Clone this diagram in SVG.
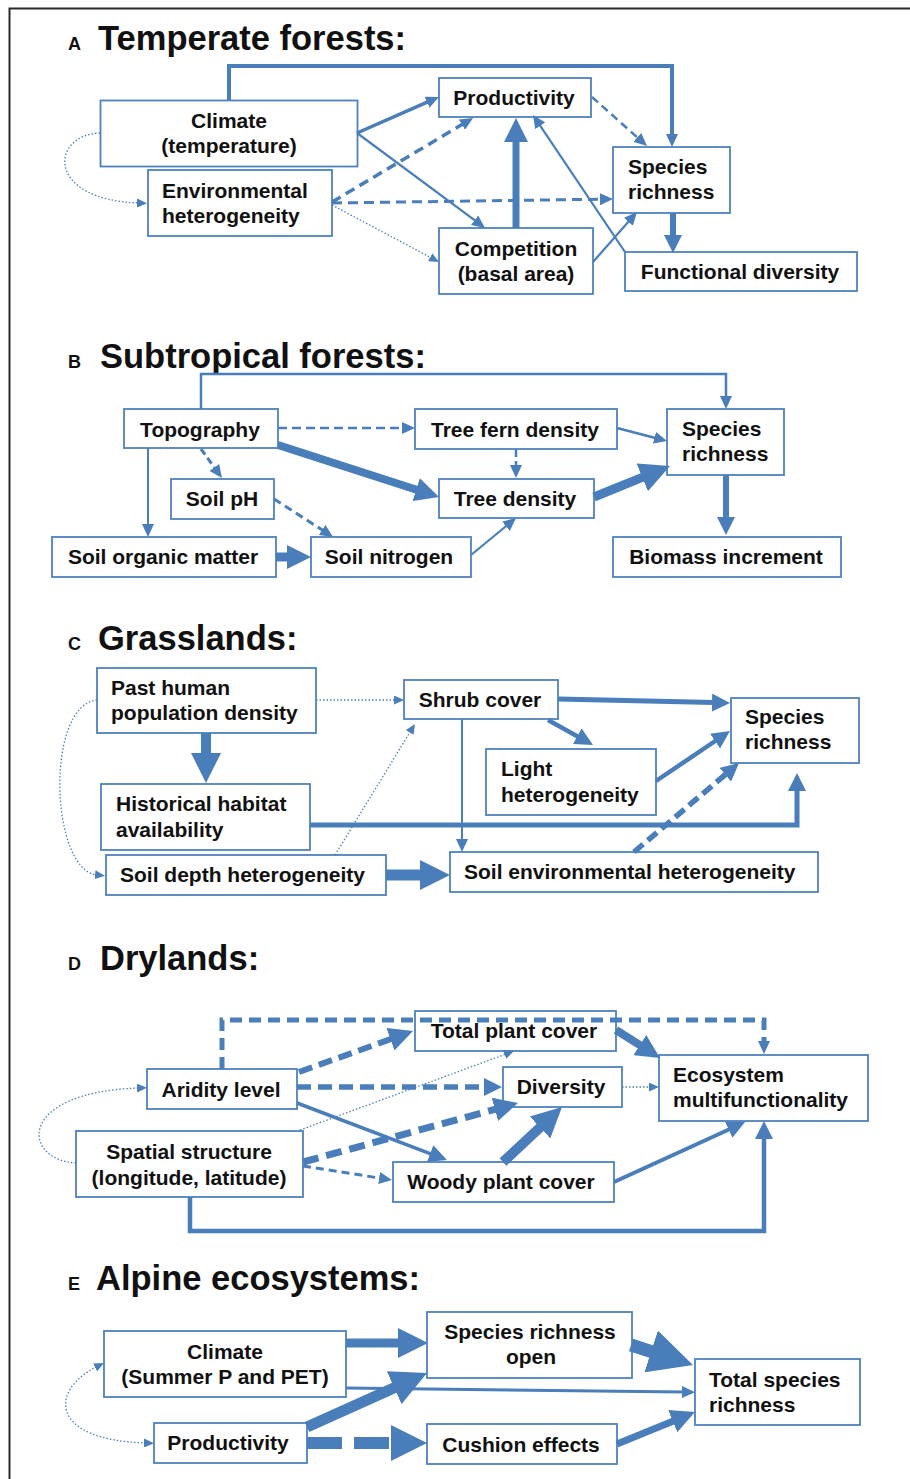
<svg xmlns="http://www.w3.org/2000/svg" width="910" height="1479" viewBox="0 0 910 1479">
<style>
.box{fill:#fff;stroke:#4f81bd;stroke-width:1.8}
.t{font-family:"Liberation Sans",Arial,sans-serif;font-weight:bold;font-size:21px;fill:#111}
.c{text-anchor:middle}
.ttl{font-size:34.5px}
.lbl{font-size:18px}
.ln{fill:none;stroke:#4a7ebb}
.dot{stroke-width:1.3;stroke-dasharray:1.5 2}
.frame{stroke:#2a2a2a;stroke-width:2;fill:none}
</style>
<defs>
<marker id="ma" markerUnits="userSpaceOnUse" markerWidth="10" markerHeight="9" refX="2" refY="4.5" orient="auto"><path d="M0,0 L10,4.5 L0,9 z" fill="#4a7ebb"/></marker>
<marker id="ma2" markerUnits="userSpaceOnUse" markerWidth="10" markerHeight="9" refX="2" refY="4.5" orient="auto-start-reverse"><path d="M0,0 L10,4.5 L0,9 z" fill="#4a7ebb"/></marker>
<marker id="mb" markerUnits="userSpaceOnUse" markerWidth="13" markerHeight="12" refX="2" refY="6" orient="auto"><path d="M0,0 L13,6 L0,12 z" fill="#4a7ebb"/></marker>
<marker id="mc" markerUnits="userSpaceOnUse" markerWidth="18" markerHeight="18" refX="2" refY="9" orient="auto"><path d="M0,0 L18,9 L0,18 z" fill="#4a7ebb"/></marker>
<marker id="md" markerUnits="userSpaceOnUse" markerWidth="24" markerHeight="24" refX="2" refY="12" orient="auto"><path d="M0,0 L24,12 L0,24 z" fill="#4a7ebb"/></marker>
<marker id="me" markerUnits="userSpaceOnUse" markerWidth="30" markerHeight="30" refX="2" refY="15" orient="auto"><path d="M0,0 L30,15 L0,30 z" fill="#4a7ebb"/></marker>
<marker id="mf" markerUnits="userSpaceOnUse" markerWidth="36" markerHeight="36" refX="2" refY="18" orient="auto"><path d="M0,0 L36,18 L0,36 z" fill="#4a7ebb"/></marker>
<marker id="mg" markerUnits="userSpaceOnUse" markerWidth="44" markerHeight="44" refX="2" refY="22" orient="auto"><path d="M0,0 L44,22 L0,44 z" fill="#4a7ebb"/></marker>
</defs>
<rect width="910" height="1479" fill="#fff"/>
<path class="frame" d="M910,8.5 H9.5 V1479"/>

<g id="titles">
<text class="t lbl" x="68" y="50">A</text><text class="t ttl" x="98" y="50">Temperate forests:</text>
<text class="t lbl" x="68" y="368">B</text><text class="t ttl" x="100" y="368">Subtropical forests:</text>
<text class="t lbl" x="68" y="650">C</text><text class="t ttl" x="98" y="650">Grasslands:</text>
<text class="t lbl" x="68" y="970">D</text><text class="t ttl" x="100" y="970">Drylands:</text>
<text class="t lbl" x="68" y="1290">E</text><text class="t ttl" x="96" y="1290">Alpine ecosystems:</text>
</g>

<!-- Panel A nodes -->
<g id="a-climate"><rect class="box" x="100.5" y="100.5" width="257" height="66"/><text class="t c" x="229" y="128">Climate</text><text class="t c" x="229" y="153">(temperature)</text></g>
<g id="a-envhet"><rect class="box" x="148" y="170" width="184" height="66"/><text class="t" x="162" y="198">Environmental</text><text class="t" x="162" y="223">heterogeneity</text></g>
<g id="a-productivity"><rect class="box" x="439" y="78" width="152" height="39"/><text class="t c" x="514" y="105">Productivity</text></g>
<g id="a-species"><rect class="box" x="613" y="147" width="117" height="66"/><text class="t" x="628" y="174">Species</text><text class="t" x="628" y="199">richness</text></g>
<g id="a-competition"><rect class="box" x="439" y="228" width="154" height="66"/><text class="t c" x="516" y="256">Competition</text><text class="t c" x="516" y="281">(basal area)</text></g>
<g id="a-functional"><rect class="box" x="625" y="252" width="232" height="39"/><text class="t c" x="740" y="279">Functional diversity</text></g>

<!-- Panel B nodes -->
<g id="b-topography"><rect class="box" x="124" y="409" width="154" height="39"/><text class="t c" x="200" y="437">Topography</text></g>
<g id="b-soilph"><rect class="box" x="171" y="479" width="103" height="40"/><text class="t c" x="222" y="506">Soil pH</text></g>
<g id="b-soilorg"><rect class="box" x="52" y="537" width="224" height="40"/><text class="t c" x="163" y="564">Soil organic matter</text></g>
<g id="b-soilnit"><rect class="box" x="311" y="537" width="160" height="40"/><text class="t c" x="389" y="564">Soil nitrogen</text></g>
<g id="b-treefern"><rect class="box" x="415" y="409" width="202" height="40"/><text class="t c" x="515" y="437">Tree fern density</text></g>
<g id="b-treedens"><rect class="box" x="439" y="479" width="155" height="39"/><text class="t c" x="515" y="506">Tree density</text></g>
<g id="b-species"><rect class="box" x="667" y="409" width="117" height="66"/><text class="t" x="682" y="436">Species</text><text class="t" x="682" y="461">richness</text></g>
<g id="b-biomass"><rect class="box" x="613" y="537" width="228" height="40"/><text class="t c" x="726" y="564">Biomass increment</text></g>

<!-- Panel C nodes -->
<g id="c-pasthuman"><rect class="box" x="97" y="668" width="219" height="65"/><text class="t" x="111" y="695">Past human</text><text class="t" x="111" y="720">population density</text></g>
<g id="c-historical"><rect class="box" x="101" y="784" width="209" height="66"/><text class="t" x="116" y="811">Historical habitat</text><text class="t" x="116" y="837">availability</text></g>
<g id="c-soildepth"><rect class="box" x="106" y="855" width="280" height="40"/><text class="t" x="120" y="882">Soil depth heterogeneity</text></g>
<g id="c-shrub"><rect class="box" x="404" y="680" width="154" height="39"/><text class="t c" x="480" y="707">Shrub cover</text></g>
<g id="c-light"><rect class="box" x="486" y="749" width="170" height="66"/><text class="t" x="501" y="776">Light</text><text class="t" x="501" y="802">heterogeneity</text></g>
<g id="c-species"><rect class="box" x="731" y="698" width="128" height="65"/><text class="t" x="745" y="724">Species</text><text class="t" x="745" y="749">richness</text></g>
<g id="c-soilenv"><rect class="box" x="450" y="852" width="368" height="40"/><text class="t" x="464" y="879">Soil environmental heterogeneity</text></g>

<!-- Panel D nodes -->
<g id="d-aridity"><rect class="box" x="147" y="1069" width="150" height="40"/><text class="t c" x="221" y="1097">Aridity level</text></g>
<g id="d-spatial"><rect class="box" x="76" y="1131" width="227" height="66"/><text class="t c" x="189" y="1159">Spatial structure</text><text class="t c" x="189" y="1185">(longitude, latitude)</text></g>
<g id="d-totalplant"><rect class="box" x="415" y="1011" width="201" height="40"/><text class="t c" x="514" y="1038">Total plant cover</text></g>
<g id="d-diversity"><rect class="box" x="503" y="1067" width="119" height="40"/><text class="t c" x="561" y="1094">Diversity</text></g>
<g id="d-woody"><rect class="box" x="393" y="1162" width="221" height="40"/><text class="t c" x="501" y="1189">Woody plant cover</text></g>
<g id="d-ecosystem"><rect class="box" x="659" y="1055" width="209" height="66"/><text class="t" x="673" y="1082">Ecosystem</text><text class="t" x="673" y="1107">multifunctionality</text></g>

<!-- Panel E nodes -->
<g id="e-climate"><rect class="box" x="104" y="1331" width="242" height="66"/><text class="t c" x="225" y="1359">Climate</text><text class="t c" x="225" y="1384">(Summer P and PET)</text></g>
<g id="e-productivity"><rect class="box" x="154" y="1423" width="153" height="40"/><text class="t c" x="228" y="1450">Productivity</text></g>
<g id="e-sro"><rect class="box" x="427" y="1312" width="205" height="66"/><text class="t c" x="530" y="1339">Species richness</text><text class="t c" x="531" y="1364">open</text></g>
<g id="e-cushion"><rect class="box" x="427" y="1424" width="190" height="40"/><text class="t c" x="521" y="1452">Cushion effects</text></g>
<g id="e-total"><rect class="box" x="695" y="1359" width="165" height="66"/><text class="t" x="709" y="1387">Total species</text><text class="t" x="709" y="1412">richness</text></g>

<g id="connectors">
<!-- A -->
<path class="ln" stroke-width="4" d="M229,100 V66 H672 V136" marker-end="url(#mb)"/>
<path class="ln" stroke-width="3.5" d="M357,133 L428.9,101.4" marker-end="url(#mb)"/>
<path class="ln" stroke-width="2.2" d="M357,133 L476.2,221.4" marker-end="url(#mb)"/>
<path class="ln" stroke-width="3.5" stroke-dasharray="10 6" d="M332,202 L463.6,123.6" marker-end="url(#mb)"/>
<path class="ln" stroke-width="3" stroke-dasharray="10 6" d="M332,203 L602,199.2" marker-end="url(#mb)"/>
<path class="ln dot" d="M332,205 L431.9,258.2" marker-end="url(#ma)"/>
<path class="ln dot" d="M100,133 C50,135 45,200 139,203" marker-end="url(#ma)"/>
<path class="ln" stroke-width="7" d="M516,228 V140" marker-end="url(#md)"/>
<path class="ln" stroke-width="2.5" stroke-dasharray="8 5" d="M592,97 L638.8,138.7" marker-end="url(#mb)"/>
<path class="ln" stroke-width="2.2" d="M593,262 L629.7,220.3" marker-end="url(#mb)"/>
<path class="ln" stroke-width="2.2" d="M625,252 L539.1,124.1" marker-end="url(#mb)"/>
<path class="ln" stroke-width="6" d="M673,213 V237" marker-end="url(#mc)"/>
<!-- B -->
<path class="ln" stroke-width="2.5" d="M201,409 V374 H726 V398" marker-end="url(#mb)"/>
<path class="ln" stroke-width="2.5" stroke-dasharray="9 5" d="M278,428 H404" marker-end="url(#mb)"/>
<path class="ln" stroke-width="3" stroke-dasharray="7 4" d="M201,449 L215.5,469.1" marker-end="url(#mb)"/>
<path class="ln" stroke-width="2" d="M148,448 V526" marker-end="url(#mb)"/>
<path class="ln" stroke-width="8" d="M278,445 L418.1,490.2" marker-end="url(#md)"/>
<path class="ln" stroke-width="3" stroke-dasharray="8 5" d="M274,499 L323.8,531" marker-end="url(#mb)"/>
<path class="ln" stroke-width="9" d="M276,557 H289" marker-end="url(#md)"/>
<path class="ln" stroke-width="2.2" d="M471,555 L507.5,525" marker-end="url(#mb)"/>
<path class="ln" stroke-width="2.5" stroke-dasharray="8 4" d="M516,449 V467" marker-end="url(#mb)"/>
<path class="ln" stroke-width="2.5" d="M617,428 L656.4,438.2" marker-end="url(#mb)"/>
<path class="ln" stroke-width="9" d="M594,497 L644.1,476.6" marker-end="url(#me)"/>
<path class="ln" stroke-width="6" d="M726,475 V519" marker-end="url(#mc)"/>
<!-- C -->
<path class="ln" stroke-width="10" d="M206,733 V755" marker-end="url(#me)"/>
<path class="ln dot" d="M316,700 H396" marker-end="url(#ma)"/>
<path class="ln dot" d="M97,700 C45,705 50,870 97,875" marker-end="url(#ma)"/>
<path class="ln dot" d="M335,855 L410.8,730.8" marker-end="url(#ma)"/>
<path class="ln" stroke-width="5" d="M310,825 H797 V789" marker-end="url(#mc)"/>
<path class="ln" stroke-width="5" d="M558,699 L714,702.6" marker-end="url(#mc)"/>
<path class="ln" stroke-width="4.5" d="M548,720 L579,737.2" marker-end="url(#mc)"/>
<path class="ln" stroke-width="2" d="M462,719 V841" marker-end="url(#mb)"/>
<path class="ln" stroke-width="4.5" d="M656,781 L716.7,740" marker-end="url(#mc)"/>
<path class="ln" stroke-width="5.5" stroke-dasharray="12 6" d="M634,852 L726.8,773.4" marker-end="url(#mc)"/>
<path class="ln" stroke-width="11" d="M386,875 H422" marker-end="url(#me)"/>
<!-- D -->
<path class="ln" stroke-width="5" stroke-dasharray="12 7" d="M222,1069 V1020 H764 V1043" marker-end="url(#mb)"/>
<path class="ln" stroke-width="6" stroke-dasharray="14 7" d="M299,1072 L392.3,1038.5" marker-end="url(#md)"/>
<path class="ln" stroke-width="5.5" stroke-dasharray="14 7" d="M297,1087 H486" marker-end="url(#mc)"/>
<path class="ln" stroke-width="3.5" d="M297,1103 L432,1154.3" marker-end="url(#mc)"/>
<path class="ln dot" d="M300,1130 L506.5,1053.8" marker-end="url(#ma)"/>
<path class="ln" stroke-width="7" stroke-dasharray="16 8" d="M303,1162 L496.8,1108.8" marker-end="url(#md)"/>
<path class="ln" stroke-width="3" stroke-dasharray="8 5" d="M303,1166 L381.1,1178.3" marker-end="url(#mb)"/>
<path class="ln" stroke-width="4.5" d="M190,1197 V1231 H764 V1137" marker-end="url(#mc)"/>
<path class="ln" stroke-width="8" d="M616,1030 L641.5,1046.2" marker-end="url(#md)"/>
<path class="ln dot" d="M622,1087 H651" marker-end="url(#ma)"/>
<path class="ln" stroke-width="10" d="M503,1162 L541.5,1126.1" marker-end="url(#me)"/>
<path class="ln" stroke-width="4" d="M614,1182 L730.5,1128.7" marker-end="url(#mc)"/>
<path class="ln dot" d="M76,1163 C22,1160 15,1092 139,1088" marker-end="url(#ma)"/>
<!-- E -->
<path class="ln" stroke-width="9" d="M346,1343 H400" marker-end="url(#me)"/>
<path class="ln" stroke-width="3" d="M346,1388 L684,1392" marker-end="url(#mb)"/>
<path class="ln" stroke-width="11" d="M307,1427 L396,1386.9" marker-end="url(#mf)"/>
<path class="ln" stroke-width="12" stroke-dasharray="35 12" d="M307,1443 H393" marker-end="url(#mf)"/>
<path class="ln" stroke-width="13" d="M631,1345 L653,1352.1" marker-end="url(#mg)"/>
<path class="ln" stroke-width="7" d="M617,1444 L674.6,1420.4" marker-end="url(#md)"/>
<path class="ln dot" d="M96.8,1366.6 C50,1390 48,1440 146,1443" marker-start="url(#ma2)" marker-end="url(#ma)"/>
</g>
</svg>
